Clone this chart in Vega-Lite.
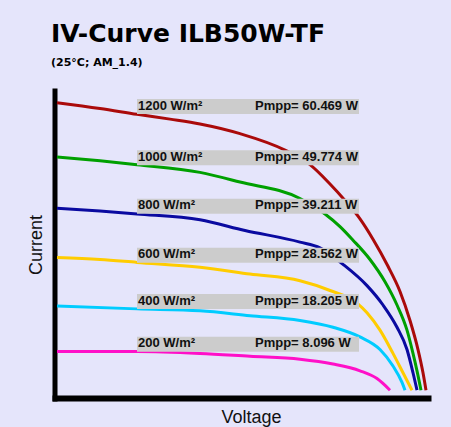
{
  "$schema": "https://vega.github.io/schema/vega-lite/v6.json",
  "width": 379,
  "height": 313,
  "autosize": {"type": "none"},
  "padding": {"left": 52, "top": 88, "right": 20, "bottom": 26},
  "background": "#e5e5fb",
  "config": {"view": {"stroke": null}},
  "title": {
    "text": "IV-Curve ILB50W-TF",
    "subtitle": "(25°C; AM_1.4)",
    "anchor": "start",
    "frame": "group",
    "font": "DejaVu Sans",
    "fontSize": 25,
    "fontWeight": "bold",
    "color": "#000000",
    "subtitleFont": "DejaVu Sans",
    "subtitleFontSize": 11,
    "subtitleFontWeight": "bold",
    "subtitleColor": "#000000",
    "subtitlePadding": 10,
    "offset": 20,
    "dx": -1
  },
  "datasets": {
    "curves": [
      {"irr": 1200, "v": 0, "i": 297}, {"irr": 1200, "v": 43, "i": 291}, {"irr": 1200, "v": 80, "i": 285}, {"irr": 1200, "v": 113, "i": 280}, {"irr": 1200, "v": 143, "i": 275}, {"irr": 1200, "v": 183, "i": 265}, {"irr": 1200, "v": 228, "i": 248}, {"irr": 1200, "v": 253, "i": 233}, {"irr": 1200, "v": 273, "i": 213}, {"irr": 1200, "v": 288, "i": 196}, {"irr": 1200, "v": 303, "i": 177}, {"irr": 1200, "v": 316, "i": 156}, {"irr": 1200, "v": 331, "i": 128}, {"irr": 1200, "v": 343, "i": 102}, {"irr": 1200, "v": 353, "i": 72}, {"irr": 1200, "v": 361, "i": 42}, {"irr": 1200, "v": 366, "i": 18}, {"irr": 1200, "v": 369, "i": 0},
      {"irr": 1000, "v": 0, "i": 241}, {"irr": 1000, "v": 43, "i": 237}, {"irr": 1000, "v": 80, "i": 233}, {"irr": 1000, "v": 143, "i": 225}, {"irr": 1000, "v": 183, "i": 215}, {"irr": 1000, "v": 243, "i": 198}, {"irr": 1000, "v": 268, "i": 182}, {"irr": 1000, "v": 283, "i": 169}, {"irr": 1000, "v": 296, "i": 155}, {"irr": 1000, "v": 313, "i": 135}, {"irr": 1000, "v": 328, "i": 112}, {"irr": 1000, "v": 340, "i": 88}, {"irr": 1000, "v": 350, "i": 62}, {"irr": 1000, "v": 356, "i": 38}, {"irr": 1000, "v": 360, "i": 20}, {"irr": 1000, "v": 364, "i": 0},
      {"irr": 800, "v": 0, "i": 188}, {"irr": 800, "v": 43, "i": 185}, {"irr": 800, "v": 80, "i": 182}, {"irr": 800, "v": 143, "i": 176}, {"irr": 800, "v": 188, "i": 165}, {"irr": 800, "v": 243, "i": 153}, {"irr": 800, "v": 263, "i": 147}, {"irr": 800, "v": 286, "i": 130}, {"irr": 800, "v": 310, "i": 108}, {"irr": 800, "v": 326, "i": 88}, {"irr": 800, "v": 340, "i": 65}, {"irr": 800, "v": 350, "i": 42}, {"irr": 800, "v": 356, "i": 18}, {"irr": 800, "v": 360, "i": 0},
      {"irr": 600, "v": 0, "i": 137}, {"irr": 600, "v": 43, "i": 135}, {"irr": 600, "v": 80, "i": 132}, {"irr": 600, "v": 143, "i": 127}, {"irr": 600, "v": 193, "i": 120}, {"irr": 600, "v": 243, "i": 113}, {"irr": 600, "v": 273, "i": 103}, {"irr": 600, "v": 300, "i": 90}, {"irr": 600, "v": 310, "i": 80}, {"irr": 600, "v": 323, "i": 62}, {"irr": 600, "v": 336, "i": 38}, {"irr": 600, "v": 346, "i": 18}, {"irr": 600, "v": 355, "i": 0},
      {"irr": 400, "v": 0, "i": 87}, {"irr": 400, "v": 80, "i": 84}, {"irr": 400, "v": 143, "i": 82}, {"irr": 400, "v": 193, "i": 77}, {"irr": 400, "v": 243, "i": 72}, {"irr": 400, "v": 276, "i": 65}, {"irr": 400, "v": 303, "i": 55}, {"irr": 400, "v": 323, "i": 42}, {"irr": 400, "v": 336, "i": 25}, {"irr": 400, "v": 345, "i": 8}, {"irr": 400, "v": 348, "i": 0},
      {"irr": 200, "v": 0, "i": 40}, {"irr": 200, "v": 80, "i": 40}, {"irr": 200, "v": 143, "i": 38}, {"irr": 200, "v": 193, "i": 35}, {"irr": 200, "v": 243, "i": 32}, {"irr": 200, "v": 276, "i": 27}, {"irr": 200, "v": 303, "i": 20}, {"irr": 200, "v": 320, "i": 12}, {"irr": 200, "v": 333, "i": 0}
    ],
    "labels": [
      {"irr": 1200, "irr_label": "1200 W/m²", "pmpp": "Pmpp= 60.469 W", "li": 293},
      {"irr": 1000, "irr_label": "1000 W/m²", "pmpp": "Pmpp= 49.774 W", "li": 240},
      {"irr": 800, "irr_label": "800 W/m²", "pmpp": "Pmpp= 39.211 W", "li": 190},
      {"irr": 600, "irr_label": "600 W/m²", "pmpp": "Pmpp= 28.562 W", "li": 139.5},
      {"irr": 400, "irr_label": "400 W/m²", "pmpp": "Pmpp= 18.205 W", "li": 91.5},
      {"irr": 200, "irr_label": "200 W/m²", "pmpp": "Pmpp= 8.096 W", "li": 47.5}
    ]
  },
  "encoding": {
    "x": {
      "type": "quantitative",
      "scale": {"domain": [-5, 374], "nice": false, "zero": false},
      "axis": {
        "title": "Voltage",
        "domain": true, "domainColor": "#000000", "domainWidth": 6,
        "ticks": false, "labels": false, "grid": false,
        "offset": -3,
        "titleFont": "Liberation Sans", "titleFontSize": 18, "titleFontWeight": "normal", "titleColor": "#111111",
        "titlePadding": 10, "titleX": 199
      }
    },
    "y": {
      "type": "quantitative",
      "scale": {"domain": [-6, 307], "nice": false, "zero": false},
      "axis": {
        "title": "Current",
        "domain": true, "domainColor": "#000000", "domainWidth": 5,
        "ticks": false, "labels": false, "grid": false,
        "offset": -2.5,
        "titleFont": "Liberation Sans", "titleFontSize": 18, "titleFontWeight": "normal", "titleColor": "#111111",
        "titlePadding": 9
      }
    }
  },
  "layer": [
    {
      "data": {"name": "curves"},
      "mark": {"type": "line", "strokeWidth": 3, "interpolate": "monotone", "clip": true},
      "encoding": {
        "x": {"field": "v", "type": "quantitative"},
        "y": {"field": "i", "type": "quantitative"},
        "order": {"field": "v", "type": "quantitative"},
        "color": {
          "field": "irr", "type": "nominal", "legend": null,
          "scale": {"domain": [1200, 1000, 800, 600, 400, 200], "range": ["#aa0a0a", "#00a000", "#0a0aa0", "#ffcc00", "#00ccff", "#ff10c8"]}
        }
      }
    },
    {
      "data": {"name": "labels"},
      "mark": {"type": "bar", "orient": "horizontal", "size": 15, "color": "#cccccc"},
      "encoding": {
        "x": {"datum": 80, "type": "quantitative"},
        "x2": {"datum": 302},
        "y": {"field": "li", "type": "quantitative"}
      }
    },
    {
      "data": {"name": "labels"},
      "mark": {"type": "text", "align": "left", "baseline": "middle", "font": "Liberation Sans", "fontSize": 13, "fontWeight": "bold", "color": "#111111", "dy": -1},
      "encoding": {
        "x": {"datum": 81, "type": "quantitative"},
        "y": {"field": "li", "type": "quantitative"},
        "text": {"field": "irr_label"}
      }
    },
    {
      "data": {"name": "labels"},
      "mark": {"type": "text", "align": "left", "baseline": "middle", "font": "Liberation Sans", "fontSize": 13, "fontWeight": "bold", "color": "#111111", "dy": -1},
      "encoding": {
        "x": {"datum": 198, "type": "quantitative"},
        "y": {"field": "li", "type": "quantitative"},
        "text": {"field": "pmpp"}
      }
    }
  ]
}
